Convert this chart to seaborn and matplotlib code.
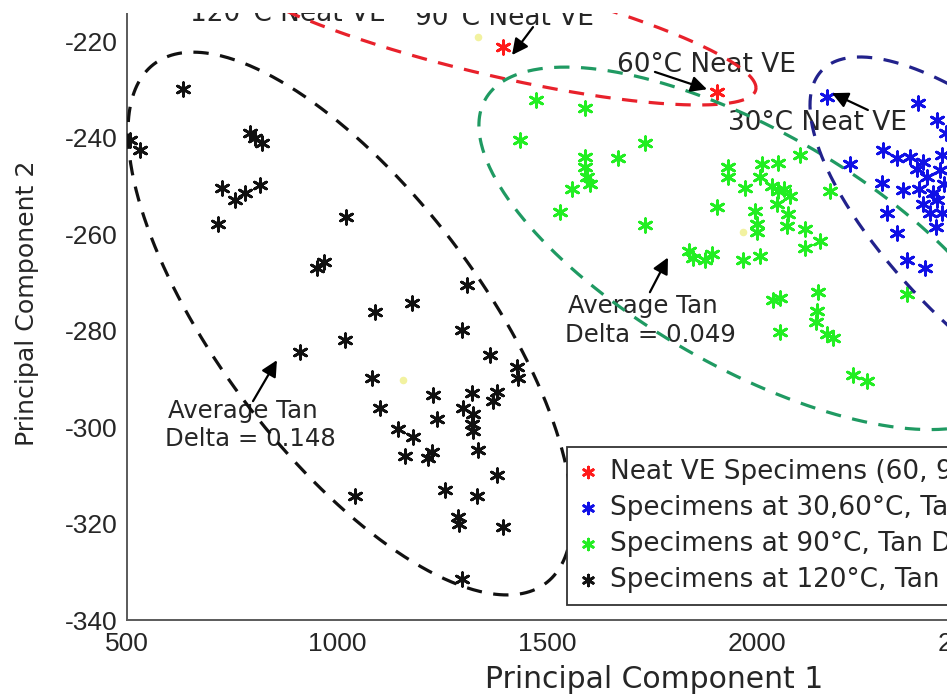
import numpy as np
import pandas as pd
import matplotlib
matplotlib.use("Agg")
import matplotlib.pyplot as plt
from matplotlib.patches import Rectangle
import seaborn as sns

# ---------------- data ----------------
black_x = [507, 531, 633, 793, 805, 821, 726, 757, 781, 817, 717, 1021, 952, 969,
           1309, 1091, 1179, 1298, 1019, 912, 1364, 1428, 1431, 1083, 1229, 1321,
           1381, 1371, 1102, 1300, 1324, 1321, 1324, 1238, 1145, 1181, 1162, 1217,
           1226, 1336, 1381, 1257, 1333, 1043, 1288, 1290, 1395, 1298]
black_y = [-240.5, -242.6, -229.9, -239.0, -240.0, -241.0, -250.4, -252.9, -251.5,
           -249.8, -257.9, -256.5, -267.0, -265.8, -270.6, -276.2, -274.3, -279.9,
           -282.0, -284.5, -285.1, -287.6, -289.7, -289.7, -293.4, -293.0, -292.8,
           -294.5, -296.0, -296.0, -297.2, -299.3, -300.7, -298.3, -300.4, -302.1,
           -305.9, -306.3, -305.2, -304.8, -310.0, -313.1, -314.2, -314.2, -318.7,
           -320.0, -320.8, -331.4]

green_x = [1474, 1590, 1436, 1733, 1669, 1590, 1590, 1595, 1602, 1560, 1531, 1733,
           1848, 1876, 1931, 1931, 2012, 2050, 2102, 1971, 2007, 2036, 2050, 2064,
           2079, 1905, 1995, 2048, 2074, 2174, 2000, 2071, 2000, 2114, 2114, 2150,
           1893, 1967, 2007, 2038, 2055, 2145, 2143, 2140, 2055, 2167, 2181, 2229,
           2262, 2357, 1838]
green_y = [-232.2, -233.8, -240.5, -241.1, -244.2, -244.0, -246.0, -248.0, -249.5,
           -250.5, -255.4, -258.1, -265.0, -265.4, -246.1, -248.2, -245.3, -245.1,
           -243.6, -250.4, -248.2, -250.0, -251.0, -250.5, -252.0, -254.4, -255.1,
           -253.6, -255.7, -250.9, -257.8, -258.2, -259.6, -258.8, -262.8, -261.3,
           -264.0, -265.4, -264.4, -273.7, -273.3, -272.0, -275.8, -278.2, -280.3,
           -280.6, -281.6, -289.2, -290.4, -272.3, -263.4]

blue_x = [2167, 2383, 2428, 2221, 2300, 2333, 2364, 2395, 2298, 2348, 2310, 2333,
          2357, 2400, 2412, 2419, 2405, 2436, 2428, 2440, 2385, 2445, 2425, 2450,
          2380, 2440, 2395]
blue_y = [-231.5, -232.8, -236.3, -245.3, -242.5, -244.2, -244.0, -245.0, -249.4,
          -250.8, -255.6, -259.8, -265.4, -267.0, -255.6, -251.5, -248.1, -246.7,
          -252.9, -243.5, -250.5, -249.5, -258.5, -239.0, -246.5, -255.5, -253.8]

red_x = [1395, 1905]
red_y = [-221.2, -230.5]

centroid_x = [1336, 1157, 1967]
centroid_y = [-219.1, -290.3, -259.6]

legend_labels = ["Neat VE Specimens (60, 90, 120°C)",
                 "Specimens at 30,60°C, Tan Delta",
                 "Specimens at 90°C, Tan Delta = 0.049",
                 "Specimens at 120°C, Tan Delta = 0.148"]

# ellipses: centre x, centre y, half-extent x, half-extent y, correlation
ellipses = {
    "red":   (1364.3, -216.9, 633.3, 16.26, -0.782),
    "green": (1977.4, -262.9, 639.5, 37.6, -0.679),
    "blue":  (2602.4, -263.1, 476.2, 39.9, -0.750),
    "black": (1031.0, -278.5, 528.6, 56.3, -0.707),
}
ellipse_colors = {"red": "#e8212b", "green": "#1f9a62",
                  "blue": "#22228c", "black": "#111111"}

x_ticks = [500, 1000, 1500, 2000, 2500, 3000]
y_ticks = [-340, -320, -300, -280, -260, -240, -220]

# ---------------- figure ----------------
sns.set_style("white")
plt.rcParams["font.family"] = ["DejaVu Sans"]
plt.rcParams["axes.unicode_minus"] = False

W, H = 947, 697
fig = plt.figure(figsize=(W / 100, H / 100), dpi=100)
fig.patch.set_facecolor("white")
ax = fig.add_axes([127 / W, 77 / H, 1050 / W, 626.65 / H])
ax.set_facecolor("white")

star = (6, 2, 0)
common = dict(marker=star, s=95, linewidth=2.0, ax=ax, zorder=3)
sns.scatterplot(x=red_x, y=red_y, color="#ff1a1a", label=legend_labels[0], **common)
sns.scatterplot(x=blue_x, y=blue_y, color="#1010e6", label=legend_labels[1], **common)
sns.scatterplot(x=green_x, y=green_y, color="#22ee22", label=legend_labels[2], **common)
sns.scatterplot(x=black_x, y=black_y, color="#111111", label=legend_labels[3], **common)
sns.scatterplot(x=centroid_x, y=centroid_y, color="#f2f2a0", marker="o", s=30,
                linewidth=0, ax=ax, zorder=2, legend=False)

t = np.linspace(0, 2 * np.pi, 500)
for key, (cx, cy, hx, hy, rho) in ellipses.items():
    ex = cx + hx * np.cos(t)
    ey = cy + hy * (rho * np.cos(t) + np.sqrt(1 - rho ** 2) * np.sin(t))
    ax.plot(ex, ey, color=ellipse_colors[key], lw=2.3,
            linestyle=(0, (4.8, 3.6)), zorder=4)

ax.set_xlim(500, 3000)
ax.set_ylim(-340, -210)
ax.set_xticks(x_ticks)
ax.set_yticks(y_ticks)
for s in ["top", "right"]:
    ax.spines[s].set_visible(False)
for s in ["left", "bottom"]:
    ax.spines[s].set_color("#5a5a5a")
    ax.spines[s].set_linewidth(1.4)
ax.tick_params(axis="both", direction="in", length=6.5, width=1.1,
               color="#6a6a6a", labelcolor="#262626", labelsize=19)
ax.tick_params(axis="x", pad=8.5)
ax.tick_params(axis="y", pad=6.5)
for lab in ax.get_xticklabels() + ax.get_yticklabels():
    lab.set_fontfamily("Liberation Sans")

ax.set_xlabel("Principal Component 1", fontsize=21.5, color="#262626", va="center")
ax.xaxis.set_label_coords((654 - 127) / 1050, (620 - 679) / 626.65)
ax.set_ylabel("Principal Component 2", fontsize=18.2, color="#262626", va="center")
ax.yaxis.set_label_coords((27 - 127) / 1050, (620 - 303) / 626.65)

tc = "#262626"
ax.text(650, -215.7, "120°C Neat VE", fontsize=19, color=tc, ha="left", va="baseline")
ax.text(1185.7, -216.6, "90°C Neat VE", fontsize=19, color=tc, ha="left", va="baseline")
ax.text(1666.7, -226.3, "60°C Neat VE", fontsize=19, color=tc, ha="left", va="baseline")
ax.text(1931, -238.4, "30°C Neat VE", fontsize=19, color=tc, ha="left", va="baseline")
ax.text(1550, -276.4, "Average Tan", fontsize=17.6, color=tc, ha="left", va="baseline")
ax.text(1543, -282.4, "Delta = 0.049", fontsize=17.6, color=tc, ha="left", va="baseline")
ax.text(597.6, -298.0, "Average Tan", fontsize=17.6, color=tc, ha="left", va="baseline")
ax.text(590.5, -304.0, "Delta = 0.148", fontsize=17.6, color=tc, ha="left", va="baseline")

arrows = [((1466.7, -217.0), (1416.7, -222.8)),
          ((1757, -226.3), (1881, -229.9)),
          ((2264, -234.2), (2178.6, -230.7)),
          ((1745, -272.0), (1788, -264.8)),
          ((800, -294.6), (857, -286.1))]
for tail, tip in arrows:
    ax.annotate("", xy=tip, xytext=tail,
                arrowprops=dict(arrowstyle="-|>", color="black", lw=1.6,
                                mutation_scale=24, shrinkA=0, shrinkB=0),
                zorder=6)

leg = ax.legend(loc="upper left", bbox_to_anchor=(567 / W, 1 - 447 / H),
                bbox_transform=fig.transFigure, borderaxespad=0,
                fontsize=18.9, frameon=True, fancybox=False, framealpha=1,
                edgecolor="#333333", borderpad=0.45, labelspacing=0.38,
                handlelength=0.69, handletextpad=0.49, markerscale=0.8)
leg.get_frame().set_linewidth(1.3)
for txt in leg.get_texts():
    txt.set_color(tc)

# white strip along the top edge (reference image is clipped there)
fig.add_artist(Rectangle((0, 1 - 13 / H), 1, 13 / H, transform=fig.transFigure,
                         facecolor="white", edgecolor="none", zorder=50))

fig.savefig("out.png", dpi=100)
